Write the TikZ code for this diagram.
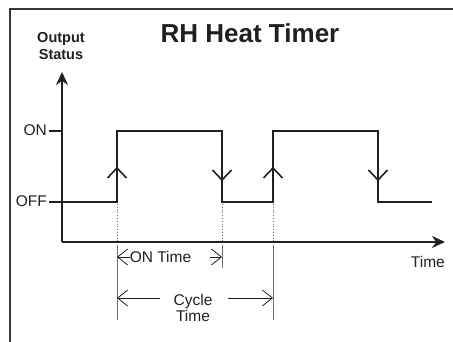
\documentclass[tikz,border=0pt]{standalone}
\usepackage{fontspec}
\setmainfont{Liberation Sans}
\usetikzlibrary{arrows.meta}
\definecolor{ink}{HTML}{231F20}
\definecolor{dim}{HTML}{6D6D6D}
\tikzset{
  axis/.style={line width=1.8pt, ink, -{Stealth[length=13pt,width=12pt]}},
  signal/.style={line width=2.6pt, ink},
  edgemark/.style={line width=1.6pt, ink},
  guide/.style={line width=0.8pt, dim, dotted},
  dimline/.style={line width=0.8pt, dim},
  dimarrow/.style={line width=0.8pt, ink, -{Straight Barb[length=10pt,width=16pt]}},
}
\begin{document}
\begin{tikzpicture}[x=1pt, y=1pt, every node/.style={font=\fontsize{15.5}{15.5}\selectfont, text=ink, inner sep=0pt}]
\useasboundingbox (0,0) rectangle (453,342);
% frame
\draw[line width=1.8pt, ink!90] (10,0) -- (10,333) -- (453,333);
\node[font=\bfseries\fontsize{26}{28}\selectfont] (title) at (250,309) {RH Heat Timer};
\node[font=\bfseries\fontsize{14.5}{17}\selectfont, align=center] (ylabel) at (61,296) {Output\\Status};
% axes
\coordinate (origin) at (62,100);
\coordinate (ytip) at (62,270);
\coordinate (xtip) at (445,100);
\draw[axis] (origin) -- (ytip);
\draw[axis] (origin) -- (xtip);
\node[anchor=east] (xlabel) at (445,80) {Time};
% levels
\coordinate (onlvl) at (62,211);
\coordinate (offlvl) at (62,140);
\node[anchor=east] (on) at (47,212) {ON};
\node[anchor=east] (off) at (47,141) {OFF};
\draw[line width=1.4pt, ink] (on.east) ++(2,-1) -- (onlvl);
\draw[line width=1.4pt, ink] (off.east) ++(2,-1) -- (offlvl);
% output signal
\coordinate (r1) at (117,140);
\coordinate (f1) at (222,211);
\coordinate (r2) at (273,140);
\coordinate (f2) at (378,211);
\draw[signal] (offlvl) -- (r1) |- (f1) |- (r2) |- (f2) |- (432,140);
% edge marks
\foreach \x in {117,273}
  \draw[edgemark] (\x-9.5,164) -- (\x,174) -- (\x+9.5,164);
\foreach \x in {222,378}
  \draw[edgemark] (\x-9.5,172) -- (\x,162) -- (\x+9.5,172);
% guides down to the time axis
\foreach \x in {117,222,273}
  \draw[guide] (\x,138) -- (\x,100);
% ON time / cycle time
\coordinate (a1) at (117,97);
\coordinate (a2) at (222,97);
\coordinate (a3) at (273,97);
\draw[dimline] (a1) -- (117,22);
\draw[dimline] (a2) -- (222,74);
\draw[dimline] (a3) -- (273,22);
\node (ontime) at (160.5,85) {ON Time};
\draw[dimarrow] (ontime.west) -- (117,85);
\draw[dimarrow] (210,85) -- (222,85);
\node[align=center] (cycle) at (193,34) {Cycle\\Time};
\draw[dimarrow] (160,44) -- (117,44);
\draw[dimarrow] (228,44) -- (273,44);
\end{tikzpicture}
\end{document}
